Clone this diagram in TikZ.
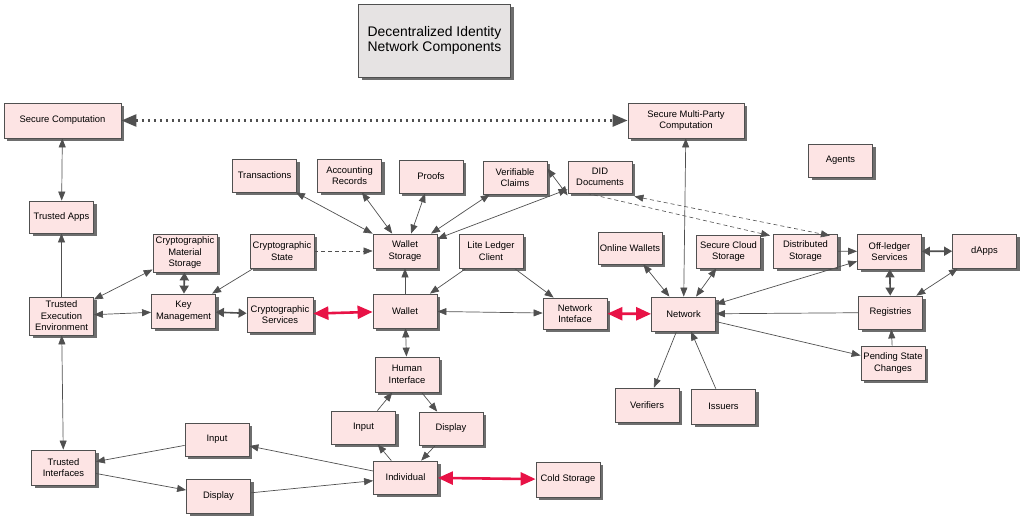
\documentclass[tikz,border=0pt]{standalone}
\usepackage{fontspec}
\setmainfont{Liberation Sans}
\usetikzlibrary{arrows.meta,shadows}
\definecolor{nodefill}{RGB}{253,228,228}
\definecolor{nodeborder}{RGB}{80,80,80}
\definecolor{titlefill}{RGB}{230,227,227}
\definecolor{edgec}{RGB}{80,80,80}
\definecolor{redc}{RGB}{232,18,70}
\definecolor{shadowc}{RGB}{110,110,110}
\tikzset{
 box/.style={draw=nodeborder, line width=0.8pt, fill=nodefill, minimum width=64pt, minimum height=34pt,
   inner sep=0pt, align=center, font=\fontsize{9.4}{11.5}\selectfont,
   drop shadow={shadow xshift=3pt, shadow yshift=-3pt, fill=shadowc, opacity=1}},
 titlebox/.style={box, fill=titlefill, minimum width=152pt, minimum height=73pt, align=left,
   font=\fontsize{13.9}{15.5}\selectfont},
 thinline/.style={draw=edgec, line width=0.7pt},
 bi/.style={thinline, {Triangle[length=9pt,width=7pt]}-{Triangle[length=9pt,width=7pt]}},
 uni/.style={thinline, -{Triangle[length=9pt,width=7pt]}},
 bimed/.style={draw=edgec, line width=1.6pt, {Triangle[length=8pt,width=9pt]}-{Triangle[length=8pt,width=9pt]}},
 bired/.style={draw=redc, line width=2.6pt, {Triangle[length=15pt,width=13pt]}-{Triangle[length=15pt,width=13pt]}},
 dotbi/.style={draw=edgec, line width=2.6pt, dash pattern=on 2.6pt off 3.4pt,
   {Triangle[length=15pt,width=12pt]}-{Triangle[length=15pt,width=12pt]}},
 dashuni/.style={draw=edgec, line width=0.6pt, dash pattern=on 4pt off 3pt, -{Triangle[length=9pt,width=7pt]}},
 dashbi/.style={draw=edgec, line width=0.6pt, dash pattern=on 4pt off 3pt,
   {Triangle[length=9pt,width=7pt]}-{Triangle[length=9pt,width=7pt]}},
}
\begin{document}
\begin{tikzpicture}[x=1pt,y=-1pt]
\useasboundingbox (0,0) rectangle (1024,519);
% title
\node[titlebox] (title) at (434.5,40.5) {Decentralized Identity\\Network Components};
% nodes
\node[box, minimum width=117pt, minimum height=35pt] (sc) at (62.5,120.5) {Secure Computation};
\node[box, minimum width=116pt, minimum height=35pt] (mpc) at (686,120.5) {Secure Multi-Party\\Computation};
\node[box, minimum height=33pt] (agents) at (840.5,160.5) {Agents};
\node[box, minimum height=33pt] (trans) at (264.5,175.5) {Transactions};
\node[box, minimum height=33pt] (acc) at (349.5,175.5) {Accounting\\Records};
\node[box, minimum height=33pt] (proofs) at (431,176.5) {Proofs};
\node[box, minimum height=33pt] (vc) at (515,177.5) {Verifiable\\Claims};
\node[box, minimum height=32pt] (did) at (600,177) {DID\\Documents};
\node[box, minimum height=32pt] (tapps) at (61.5,217) {Trusted Apps};
\node[box, minimum height=38pt] (cms) at (185,253) {Cryptographic\\Material\\Storage};
\node[box] (cstate) at (282,251) {Cryptographic\\State};
\node[box] (wstore) at (405,251) {Wallet\\Storage};
\node[box] (llc) at (491,251) {Lite Ledger\\Client};
\node[box, minimum height=32pt] (onw) at (630,248) {Online Wallets};
\node[box, minimum height=33pt] (scs) at (728.5,251.5) {Secure Cloud\\Storage};
\node[box] (ds) at (805.5,251) {Distributed\\Storage};
\node[box, minimum height=35pt] (ols) at (889.5,251.5) {Off-ledger\\Services};
\node[box] (dapps) at (984.5,251) {dApps};
\node[box, minimum height=38pt] (tee) at (61.5,316) {Trusted\\Execution\\Environment};
\node[box] (km) at (183.5,311) {Key\\Management};
\node[box, minimum width=66pt, minimum height=35pt] (csvc) at (280,314.5) {Cryptographic\\Services};
\node[box] (wallet) at (405,311) {Wallet};
\node[box, minimum height=31pt] (ni) at (575,313.5) {Network\\Inteface};
\node[box] (net) at (683.5,314) {Network};
\node[box, minimum height=33pt] (reg) at (890.5,312.5) {Registries};
\node[box] (psc) at (893,363) {Pending State\\Changes};
\node[box, minimum height=35pt] (hi) at (407,374.5) {Human\\Interface};
\node[box] (ver) at (647,405) {Verifiers};
\node[box, minimum height=35pt] (iss) at (723.5,406.5) {Issuers};
\node[box, minimum height=33pt] (inR) at (363.5,427.5) {Input};
\node[box, minimum height=33pt] (dispR) at (451,428.5) {Display};
\node[box, minimum height=33pt] (inL) at (217,439.5) {Input};
\node[box, minimum height=35pt] (ti) at (63.5,467.5) {Trusted\\Interfaces};
\node[box, minimum height=33pt] (indiv) at (405.5,477.5) {Individual};
\node[box] (dispL) at (218.5,496) {Display};
\node[box, minimum height=35pt] (cold) at (568,479.5) {Cold Storage};
% connectors
\draw[dotbi] (sc) -- (mpc);
\draw[bi] (sc) -- (tapps);
\draw[uni] (tee) -- (tapps);
\draw[bi] (tee) -- (ti);
\draw[bi] (tee) -- (cms);
\draw[bi] (tee) -- (km);
\draw[bimed] (cms) -- (km);
\draw[uni] (cstate) -- (km);
\draw[bimed] (km) -- (csvc);
\draw[bired] (csvc) -- (wallet);
\draw[dashuni] (cstate) -- (wstore);
\draw[bi] (trans) -- (wstore);
\draw[bi] (acc) -- (wstore);
\draw[bi] (proofs) -- (wstore);
\draw[bi] (vc) -- (wstore);
\draw[bi] (did) -- (wstore);
\draw[bi] ([yshift=9pt]vc.east) -- ([yshift=-2pt]did.south west);
\draw[uni] (wallet) -- (wstore);
\draw[uni] (llc) -- (wallet);
\draw[uni] (llc) -- (ni);
\draw[bi] (wallet) -- (ni);
\draw[bi] (wallet) -- (hi);
\draw[bired] (ni) -- (net);
\draw[dashuni] ([xshift=-13pt]did.south) -- ([xshift=-3pt,yshift=-2pt]ds.north west);
\draw[dashbi] ([xshift=2pt,yshift=-3pt]did.south east) -- ([xshift=-8pt,yshift=-2pt]ds.north east);
\draw[bi] (mpc) -- (net);
\draw[bi] (onw) -- (net);
\draw[bi] (scs) -- (net);
\draw[uni] (ds) -- (ols);
\draw[bi] (net) -- (ols);
\draw[bimed] (ols) -- (dapps);
\draw[bimed] (ols) -- (reg);
\draw[bi] (dapps) -- (reg);
\draw[uni] (reg) -- (net);
\draw[uni] (net) -- (psc);
\draw[uni] (psc) -- (reg);
\draw[uni] (net) -- (ver);
\draw[uni] (iss) -- (net);
\draw[uni] (hi) -- (dispR);
\draw[uni] (inR) -- (hi);
\draw[uni] (indiv) -- (inR);
\draw[uni] (dispR) -- (indiv);
\draw[bired] (indiv) -- (cold);
\draw[uni] (indiv) -- (inL);
\draw[uni] (inL) -- (ti);
\draw[uni] (ti) -- (dispL);
\draw[uni] (dispL) -- (indiv);
\end{tikzpicture}
\end{document}
